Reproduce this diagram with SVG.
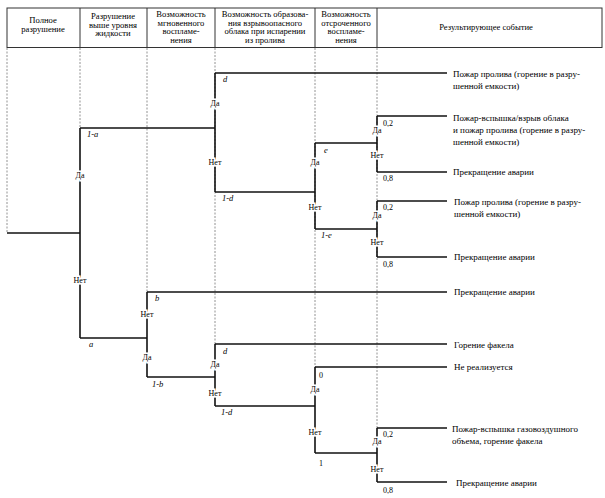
<svg xmlns="http://www.w3.org/2000/svg" width="605" height="498" viewBox="0 0 605 498">
<style>
.h{font-size:8.6px;text-anchor:middle}
.r{font-size:9px}
.lb{font-size:8px;text-anchor:middle;stroke:#fff;stroke-width:3;paint-order:stroke fill}
.p{font-size:8px}
.i{font-size:8.5px;font-style:italic}
.ln{stroke:#111;stroke-width:1.6;fill:none}
.ds{stroke:#777;stroke-width:0.8;stroke-dasharray:2,1.5;fill:none}
.bx{stroke:#333;stroke-width:1;fill:none}
</style>
<rect width="605" height="498" fill="#fff"/>
<g font-family="'Liberation Serif', 'DejaVu Serif', serif" fill="#000">
<g id="header">
<rect class="bx" x="7" y="8" width="595" height="39.5"/>
<line class="bx" x1="80" y1="8" x2="80" y2="47.5"/>
<line class="bx" x1="147" y1="8" x2="147" y2="47.5"/>
<line class="bx" x1="215" y1="8" x2="215" y2="47.5"/>
<line class="bx" x1="315" y1="8" x2="315" y2="47.5"/>
<line class="bx" x1="377" y1="8" x2="377" y2="47.5"/>
<text class="h" x="43" y="23">Полное</text>
<text class="h" x="43" y="31.5">разрушение</text>
<text class="h" x="113" y="19">Разрушение</text>
<text class="h" x="113" y="27.5">выше уровня</text>
<text class="h" x="113" y="36">жидкости</text>
<text class="h" x="181" y="17">Возможность</text>
<text class="h" x="181" y="25.5">мгновенного</text>
<text class="h" x="181" y="34">воспламе-</text>
<text class="h" x="181" y="42.5">нения</text>
<text class="h" x="265" y="17">Возможность образова-</text>
<text class="h" x="265" y="25.5">ния взрывоопасного</text>
<text class="h" x="265" y="34">облака при испарении</text>
<text class="h" x="265" y="42.5">из пролива</text>
<text class="h" x="346" y="17">Возможность</text>
<text class="h" x="346" y="25.5">отсроченного</text>
<text class="h" x="346" y="34">воспламе-</text>
<text class="h" x="346" y="42.5">нения</text>
<text class="h" x="486" y="30">Результирующее событие</text>
</g>
<g id="guides">
<line class="ds" x1="7" y1="48" x2="7" y2="233"/>
<line class="ds" x1="80" y1="48" x2="80" y2="128"/>
<line class="ds" x1="147" y1="48" x2="147" y2="292"/>
<line class="ds" x1="215" y1="48" x2="215" y2="344"/>
<line class="ds" x1="315" y1="48" x2="315" y2="367"/>
<line class="ds" x1="377" y1="48" x2="377" y2="428"/>
</g>
<g id="connectors">
<path class="ln" d="M7 233H80"/>
<path class="ln" d="M80 128V338"/>
<path class="ln" d="M80 128H215"/>
<path class="ln" d="M80 338H147"/>
<path class="ln" d="M215 73V192"/>
<path class="ln" d="M215 73H447"/>
<path class="ln" d="M215 192H315"/>
<path class="ln" d="M315 143V229"/>
<path class="ln" d="M315 143H377"/>
<path class="ln" d="M315 229H377"/>
<path class="ln" d="M377 116V172"/>
<path class="ln" d="M377 116H447"/>
<path class="ln" d="M377 172H447"/>
<path class="ln" d="M377 201V257"/>
<path class="ln" d="M377 201H447"/>
<path class="ln" d="M377 257H447"/>
<path class="ln" d="M147 292V377"/>
<path class="ln" d="M147 292H447"/>
<path class="ln" d="M147 377H215"/>
<path class="ln" d="M215 344V406"/>
<path class="ln" d="M215 344H447"/>
<path class="ln" d="M215 406H315"/>
<path class="ln" d="M315 367V453"/>
<path class="ln" d="M315 367H447"/>
<path class="ln" d="M315 453H377"/>
<path class="ln" d="M377 428V482"/>
<path class="ln" d="M377 428H447"/>
<path class="ln" d="M377 482H447"/>
</g>
<g id="labels">
<text class="i" x="87" y="137">1-a</text>
<text class="lb" x="80" y="178">Да</text>
<text class="lb" x="80" y="283">Нет</text>
<text class="i" x="89" y="347">a</text>
<text class="i" x="223" y="82">d</text>
<text class="lb" x="215" y="106">Да</text>
<text class="lb" x="215" y="165">Нет</text>
<text class="i" x="222" y="201">1-d</text>
<text class="i" x="324" y="153">e</text>
<text class="lb" x="315" y="165">Да</text>
<text class="lb" x="315" y="210">Нет</text>
<text class="i" x="321" y="238">1-e</text>
<text class="p" x="383" y="126">0,2</text>
<text class="lb" x="377" y="133">Да</text>
<text class="lb" x="377" y="158">Нет</text>
<text class="p" x="383" y="181">0,8</text>
<text class="p" x="383" y="210">0,2</text>
<text class="lb" x="377" y="218">Да</text>
<text class="lb" x="377" y="245">Нет</text>
<text class="p" x="383" y="267">0,8</text>
<text class="i" x="155" y="301">b</text>
<text class="lb" x="147" y="317">Нет</text>
<text class="lb" x="147" y="360">Да</text>
<text class="i" x="152" y="387">1-b</text>
<text class="i" x="223" y="354">d</text>
<text class="lb" x="215" y="367">Да</text>
<text class="lb" x="215" y="396">Нет</text>
<text class="i" x="221" y="415">1-d</text>
<text class="p" x="319" y="378">0</text>
<text class="lb" x="315" y="392">Да</text>
<text class="lb" x="315" y="435">Нет</text>
<text class="p" x="319" y="466">1</text>
<text class="p" x="383" y="437">0,2</text>
<text class="lb" x="377" y="444">Да</text>
<text class="lb" x="377" y="472">Нет</text>
<text class="p" x="383" y="493">0,8</text>
</g>
<g id="outcomes">
<text class="r" x="453" y="77">Пожар пролива (горение в разру-</text>
<text class="r" x="453" y="89">шенной емкости)</text>
<text class="r" x="453" y="121">Пожар-вспышка/взрыв облака</text>
<text class="r" x="453" y="133">и пожар пролива (горение в разру-</text>
<text class="r" x="453" y="145">шенной емкости)</text>
<text class="r" x="453" y="175">Прекращение аварии</text>
<text class="r" x="454" y="205">Пожар пролива (горение в разру-</text>
<text class="r" x="454" y="217">шенной емкости)</text>
<text class="r" x="454" y="260">Прекращение аварии</text>
<text class="r" x="454" y="295">Прекращение аварии</text>
<text class="r" x="454" y="348">Горение факела</text>
<text class="r" x="454" y="370">Не реализуется</text>
<text class="r" x="452" y="432">Пожар-вспышка газовоздушного</text>
<text class="r" x="452" y="444">объема, горение факела</text>
<text class="r" x="456" y="486">Прекращение аварии</text>
</g>
</g>
</svg>
